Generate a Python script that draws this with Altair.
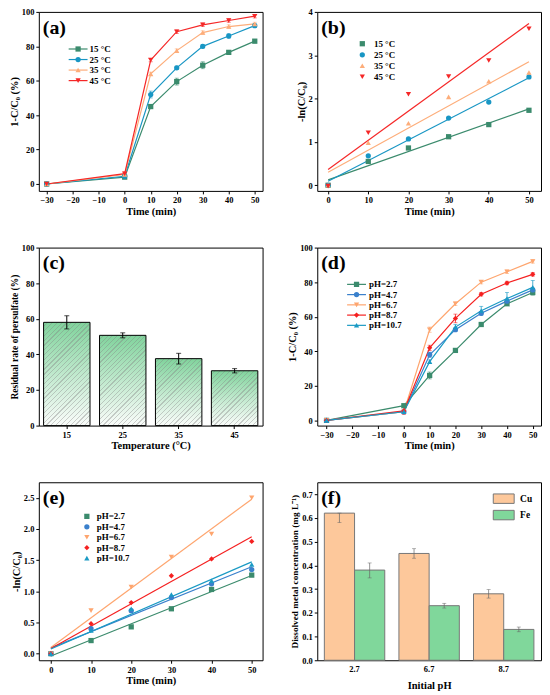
import altair as alt
import pandas as pd

FONT = "Liberation Serif"
W = 225

# ---------------- (a) ----------------
a_time = [-30, 0, 10, 20, 30, 40, 50]
a_names = ["15 °C", "25 °C", "35 °C", "45 °C"]
a_15 = [0, 4.0, 45, 59.5, 69, 76.5, 83]
a_25 = [0, 4.5, 52, 67.5, 80, 86, 92]
a_35 = [0, 5.5, 64, 77.5, 88, 91.5, 93]
a_45 = [0, 6.0, 72, 88.5, 92.5, 95, 97.5]
a_15_err = [0, 0.8, 1.0, 2.0, 2.0, 1.0, 1.0]
a_25_err = [0, 0.8, 2.0, 1.0, 1.0, 1.2, 1.0]
a_35_err = [0, 1.5, 1.0, 1.0, 1.0, 1.0, 1.0]
a_45_err = [0, 1.0, 1.0, 1.0, 1.0, 1.0, 1.0]
a_colors = ["#3b8b6d", "#1896c4", "#fdad7a", "#f52727"]

# ---------------- (b) ----------------
b_time = [0, 10, 20, 30, 40, 50]
b_15 = [0, 0.55, 0.86, 1.12, 1.40, 1.73]
b_25 = [0, 0.68, 1.07, 1.55, 1.92, 2.50]
b_35 = [0, 0.98, 1.43, 2.04, 2.40, 2.60]
b_45 = [-0.02, 1.21, 2.10, 2.51, 2.88, 3.61]

# ---------------- (c) ----------------
c_temp = ["15", "25", "35", "45"]
c_rate = [58.0, 50.7, 37.6, 30.8]
c_err = [3.7, 1.4, 3.0, 1.2]

# ---------------- (d) ----------------
d_time = [-30, 0, 10, 20, 30, 40, 50]
d_names = ["pH=2.7", "pH=4.7", "pH=6.7", "pH=8.7", "pH=10.7"]
d_27 = [0, 8.5, 26, 40.5, 55.5, 67.5, 74]
d_47 = [0, 5.0, 38, 52.5, 62, 69, 75.5]
d_67 = [0, 5.0, 52.5, 67.5, 80, 86, 92]
d_87 = [0, 5.5, 42, 59, 73, 79.5, 84.5]
d_107 = [0, 5.0, 34, 54, 63.5, 70.5, 77]
d_27_err = [0, 0.8, 2.0, 1.0, 1.0, 1.0, 1.5]
d_47_err = [0, 1.0, 1.5, 1.0, 1.0, 1.0, 1.0]
d_67_err = [0, 1.0, 1.5, 1.0, 1.0, 1.0, 1.0]
d_87_err = [0, 2.0, 1.5, 2.5, 1.0, 1.0, 1.0]
d_107_err = [0, 1.0, 1.0, 1.5, 2.5, 3.5, 4.0]
d_colors = ["#3b8b6d", "#3a80cc", "#fea56e", "#f52020", "#1a9ac4"]

# ---------------- (e) ----------------
e_time = [0, 10, 20, 30, 40, 50]
e_27 = [0, 0.21, 0.43, 0.72, 1.03, 1.26]
e_47 = [0, 0.40, 0.69, 0.90, 1.12, 1.35]
e_67 = [0, 0.69, 1.07, 1.55, 1.92, 2.50]
e_87 = [0, 0.48, 0.82, 1.25, 1.52, 1.80]
e_107 = [0, 0.37, 0.72, 0.95, 1.17, 1.43]

# ---------------- (f) ----------------
f_ph = ["2.7", "6.7", "8.7"]
f_metals = ["Cu", "Fe"]
f_cu = [0.62, 0.45, 0.28]
f_fe = [0.38, 0.23, 0.13]
f_cu_lo = [0.58, 0.43, 0.262]
f_cu_hi = [0.62, 0.47, 0.298]
f_fe_lo = [0.347, 0.22, 0.12]
f_fe_hi = [0.41, 0.24, 0.14]
f_colors = ["#fdc89b", "#80d79b"]

# marker shapes
SH4 = ["square", "circle", "triangle-up", "triangle-down"]
SH5 = ["square", "circle", "triangle-down", "diamond", "triangle-up"]

IND = dict(color="independent", shape="independent", fill="independent",
           stroke="independent")


def long_df(xs, names, ys, errs=None):
    rows = []
    for i, n in enumerate(names):
        for j, xv in enumerate(xs):
            rows.append({"x": xv, "y": ys[i][j],
                         "e": errs[i][j] if errs else 0.0, "s": n})
    return pd.DataFrame(rows)


def letter(txt):
    return alt.Chart(pd.DataFrame({"t": [txt]})).mark_text(
        font=FONT, fontSize=20, fontWeight="bold", align="left",
        baseline="top", color="black"
    ).encode(x=alt.value(4), y=alt.value(6), text="t:N")


def key_layer(names, colors, shapes, sym_x, label_x, y0, dy, line_half=None):
    """In-plot key: one row per series (symbol, optional line, label)."""
    kdf = pd.DataFrame({"s": names})
    Yk = alt.Y("s:N", sort=names, axis=None,
               scale=alt.Scale(type="point", domain=names, padding=0,
                               range=[y0, y0 + dy * (len(names) - 1)]))
    C = alt.Color("s:N", scale=alt.Scale(domain=names, range=colors), legend=None)
    S = alt.Shape("s:N", scale=alt.Scale(domain=names, range=shapes), legend=None)
    kb = alt.Chart(kdf)
    layers = []
    if line_half:
        layers.append(kb.mark_rule(strokeWidth=1.2).encode(
            x=alt.value(sym_x - line_half), x2=alt.value(sym_x + line_half), y=Yk, color=C))
    layers.append(kb.mark_point(filled=True, opacity=1, size=28).encode(
        x=alt.value(sym_x), y=Yk, color=C, shape=S))
    layers.append(kb.mark_text(align="left", baseline="middle", font=FONT, fontSize=9,
                               fontWeight="bold", color="black").encode(
        x=alt.value(label_x), y=Yk, text="s:N"))
    return alt.layer(*layers)


def line_panel(df, names, colors, shapes, xdom, xticks, ydom, yticks, yfmt,
               ytitle, txt, key, h, fit=False):
    xs = alt.Scale(domain=xdom, nice=False, zero=False)
    ys = alt.Scale(domain=ydom, nice=False, zero=False)
    ax_x = alt.Axis(values=xticks, title="Time (min)")
    ax_y = alt.Axis(values=yticks, title=ytitle, format=yfmt)
    X = alt.X("x:Q", scale=xs, axis=ax_x)
    Y = alt.Y("y:Q", scale=ys, axis=ax_y)
    C = alt.Color("s:N", scale=alt.Scale(domain=names, range=colors), legend=None)
    S = alt.Shape("s:N", scale=alt.Scale(domain=names, range=shapes), legend=None)
    base = alt.Chart(df)
    layers = []
    if fit:
        layers.append(base.transform_regression("x", "y", groupby=["s"], extent=[0, 50])
                      .mark_line(strokeWidth=1.2).encode(X, Y, C))
    else:
        layers.append(base.mark_line(strokeWidth=1.2).encode(X, Y, C))
        eb = base.transform_filter("datum.e > 0").transform_calculate(
            lo="datum.y - datum.e", hi="datum.y + datum.e")
        Ylo = alt.Y("lo:Q", scale=ys, axis=ax_y)
        Yhi = alt.Y("hi:Q", scale=ys, axis=ax_y)
        layers.append(eb.mark_rule(strokeWidth=0.8).encode(X, Ylo, alt.Y2("hi:Q"), C))
        layers.append(eb.mark_tick(orient="horizontal", size=4, thickness=0.8).encode(X, Ylo, C))
        layers.append(eb.mark_tick(orient="horizontal", size=4, thickness=0.8).encode(X, Yhi, C))
    layers.append(base.mark_point(filled=True, size=28, opacity=1).encode(X, Y, C, S))
    layers.append(letter(txt))
    main = alt.layer(*layers)
    return alt.layer(main, key).resolve_scale(y="independent").properties(width=W, height=h)


# (a)
dfa = long_df(a_time, a_names, [a_15, a_25, a_35, a_45],
              [a_15_err, a_25_err, a_35_err, a_45_err])
pa = line_panel(dfa, a_names, a_colors, SH4, [-33, 53], [-30, -20, -10, 0, 10, 20, 30, 40, 50],
                [-4, 100], [0, 20, 40, 60, 80, 100], "d", "1-C/C₀ (%)", "(a)",
                key_layer(a_names, a_colors, SH4, 39.5, 51, 37.3, 10.6, line_half=9.5), 180)

# (b)
dfb = long_df(b_time, a_names, [b_15, b_25, b_35, b_45])
pb = line_panel(dfb, a_names, a_colors, SH4, [-2.7, 53], [0, 10, 20, 30, 40, 50],
                [-0.13, 4], [0, 1, 2, 3, 4], "d", "-ln(C/C₀)", "(b)",
                key_layer(a_names, a_colors, SH4, 45.3, 57, 32, 11.1), 180, fit=True)

# (c)
H_C = 179
dfc = pd.DataFrame({"t": c_temp, "v": c_rate, "e": c_err})
dfc["lo"] = dfc["v"] - dfc["e"]
dfc["hi"] = dfc["v"] + dfc["e"]
PI_C, PO_C = 0.17, 0.085
Xc = alt.X("t:N", sort=c_temp, scale=alt.Scale(paddingInner=PI_C, paddingOuter=PO_C),
           axis=alt.Axis(labelAngle=0, title="Temperature (°C)"))
ys_c = alt.Scale(domain=[0, 100], nice=False)
ax_c = alt.Axis(values=[0, 20, 40, 60, 80, 100], title="Residual rate of persulfate (%)",
                titleFontSize=9.5)
grad = alt.Gradient(gradient="linear",
                    stops=[alt.GradientStop(color="#80d39c", offset=0),
                           alt.GradientStop(color="#c6ebd2", offset=0.55),
                           alt.GradientStop(color="#fafcfa", offset=1)],
                    x1=0, x2=0, y1=0, y2=1)
cb = alt.Chart(dfc)
c_layers = [cb.mark_bar(fill=grad, strokeWidth=0).encode(
    Xc, alt.Y("v:Q", scale=ys_c, axis=ax_c))]

# diagonal hatch drawn as a striped gradient, one per bar (bar geometry from the band scale)
step_c = W / (len(c_temp) - PI_C + 2 * PO_C)
bw = step_c * (1 - PI_C)
PERIOD = 3.4
for t, v in zip(c_temp, c_rate):
    bh = v / 100.0 * H_C
    n = max(1, int(round((bw + bh) / (PERIOD * 1.414))))
    stops = []
    for i in range(n):
        o0 = i / n
        o1 = (i + 0.75) / n
        o2 = (i + 1) / n
        stops += [alt.GradientStop(color="rgba(150,150,150,0)", offset=o0),
                  alt.GradientStop(color="rgba(150,150,150,0)", offset=o1),
                  alt.GradientStop(color="rgba(130,130,130,0.38)", offset=o1),
                  alt.GradientStop(color="rgba(130,130,130,0.38)", offset=o2)]
    k = (bw + bh) / (bw * bw + bh * bh)
    hatch = alt.Gradient(gradient="linear", stops=stops,
                         x1=0, y1=0, x2=bw * k, y2=bh * k)
    c_layers.append(cb.transform_filter(alt.datum.t == t).mark_bar(
        fill=hatch, strokeWidth=0).encode(Xc, alt.Y("v:Q", scale=ys_c, axis=ax_c)))

c_layers += [
    cb.mark_bar(fillOpacity=0, stroke="black", strokeWidth=1).encode(
        Xc, alt.Y("v:Q", scale=ys_c, axis=ax_c)),
    cb.mark_rule(color="black", strokeWidth=1).encode(
        Xc, alt.Y("lo:Q", scale=ys_c, axis=ax_c), alt.Y2("hi:Q")),
    cb.mark_tick(color="black", size=5, thickness=1).encode(
        Xc, alt.Y("lo:Q", scale=ys_c, axis=ax_c)),
    cb.mark_tick(color="black", size=5, thickness=1).encode(
        Xc, alt.Y("hi:Q", scale=ys_c, axis=ax_c)),
    letter("(c)"),
]
pc = alt.layer(*c_layers).properties(width=W, height=H_C)

# (d)
dfd = long_df(d_time, d_names, [d_27, d_47, d_67, d_87, d_107],
              [d_27_err, d_47_err, d_67_err, d_87_err, d_107_err])
pdd = line_panel(dfd, d_names, d_colors, SH5, [-33.6, 53.2], [-30, -20, -10, 0, 10, 20, 30, 40, 50],
                 [-3, 100], [0, 20, 40, 60, 80, 100], "d", "1-C/C₀ (%)", "(d)",
                 key_layer(d_names, d_colors, SH5, 39.5, 52, 37, 10.3, line_half=9.5), 179)

# (e)
dfe = long_df(e_time, d_names, [e_27, e_47, e_67, e_87, e_107])
pe = line_panel(dfe, d_names, d_colors, SH5, [-3, 52.7], [0, 10, 20, 30, 40, 50],
                [-0.106, 2.75], [0, 0.5, 1.0, 1.5, 2.0, 2.5], ".1f", "-ln(C/C₀)", "(e)",
                key_layer(d_names, d_colors, SH5, 48.3, 58.3, 34.3, 10.5), 179, fit=True)

# (f)
rows = []
for i, p in enumerate(f_ph):
    rows.append({"p": p, "m": "Cu", "v": f_cu[i], "lo": f_cu_lo[i], "hi": f_cu_hi[i]})
    rows.append({"p": p, "m": "Fe", "v": f_fe[i], "lo": f_fe_lo[i], "hi": f_fe_hi[i]})
dff = pd.DataFrame(rows)
Xf = alt.X("p:N", sort=f_ph, scale=alt.Scale(paddingInner=0.19, paddingOuter=0.095),
           axis=alt.Axis(labelAngle=0, title="Initial pH", ticks=False, labelPadding=4,
                         titlePadding=8))
XOf = alt.XOffset("m:N", sort=f_metals, scale=alt.Scale(paddingInner=0, paddingOuter=0))
ys_f = alt.Scale(domain=[0, 0.75], nice=False)
ax_f = alt.Axis(values=[0, 0.1, 0.2, 0.3, 0.4, 0.5, 0.6, 0.7], format=".1f",
                title="Dissolved metal concentration (mg L⁻¹)", titleFontSize=9.3)
fb = alt.Chart(dff)
pf = alt.layer(
    fb.mark_bar(stroke="#777777", strokeWidth=1, opacity=1).encode(
        Xf, XOf, alt.Y("v:Q", scale=ys_f, axis=ax_f),
        alt.Color("m:N", scale=alt.Scale(domain=f_metals, range=f_colors),
                  legend=alt.Legend(orient="none", title=None, legendX=182, legendY=11,
                                    symbolSize=100, padding=0, symbolOpacity=1,
                                    symbolType="M-2.1,-0.95H2.1V0.95H-2.1Z",
                                    symbolStrokeColor="#777777", symbolStrokeWidth=1,
                                    rowPadding=1.5, labelOffset=11, labelFont=FONT,
                                    labelFontSize=9.5, labelFontWeight="bold",
                                    labelColor="black"))),
    fb.mark_rule(color="#666666", strokeWidth=0.7).encode(
        Xf, XOf, alt.Y("lo:Q", scale=ys_f, axis=ax_f), alt.Y2("hi:Q")),
    fb.mark_tick(color="#666666", size=4, thickness=0.7).encode(
        Xf, XOf, alt.Y("lo:Q", scale=ys_f, axis=ax_f)),
    fb.mark_tick(color="#666666", size=4, thickness=0.7).encode(
        Xf, XOf, alt.Y("hi:Q", scale=ys_f, axis=ax_f)),
    letter("(f)"),
).properties(width=W, height=179)

col_left = alt.vconcat(pa, pc, pe, spacing=57, bounds="flush").resolve_scale(**IND)
col_right = alt.vconcat(pb, pdd, pf, spacing=57, bounds="flush").resolve_scale(**IND)

chart = alt.hconcat(col_left, col_right, spacing=23).resolve_scale(**IND).properties(
    padding={"left": 0, "top": -3, "right": 0, "bottom": 0}
).configure_axis(
    labelFont=FONT, titleFont=FONT, labelFontWeight="bold", titleFontWeight="bold",
    labelColor="black", titleColor="black", tickColor="black", domain=False,
    grid=False, labelFontSize=8.5, titleFontSize=10.5, tickSize=3, labelPadding=2,
    titlePadding=2
).configure_view(stroke="black", strokeWidth=1)

chart.save("out.html", embed_options={"renderer": "svg", "actions": False})
